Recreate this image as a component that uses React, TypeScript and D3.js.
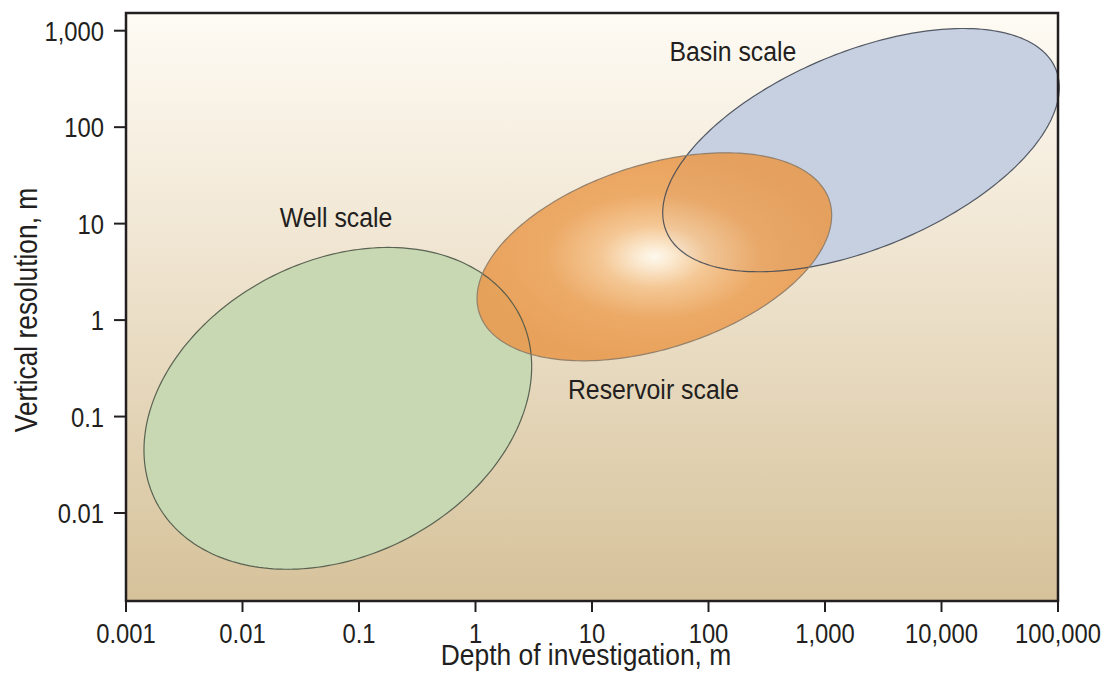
import React from "react";
import * as d3 from "d3";

// ---- data ----
const regions = ["Well scale", "Basin scale", "Reservoir scale"];
const centerDepth = [0.0658, 2037, 34.3]; // m
const centerResolution = [0.1216, 57.8, 4.53]; // m
const depthHalfRange = [1.664, 1.702, 1.522]; // decades
const resolutionHalfRange = [1.668, 1.261, 1.078]; // decades
const correlation = [0.26, 0.515, 0.4];
const regionFills = ["#c7d8b3", "#c6d0e1", "url(#resGrad)"];
const regionStrokes = ["#4c5547", "#444a55", "#8c7a66"];

const labelDepth = [0.0635, 162, 33.7];
const labelResolution = [9.2, 489, 0.152];

const xTicks = [0.001, 0.01, 0.1, 1, 10, 100, 1000, 10000, 100000];
const xTickLabels = ["0.001", "0.01", "0.1", "1", "10", "100", "1,000", "10,000", "100,000"];
const yTicks = [0.01, 0.1, 1, 10, 100, 1000];
const yTickLabels = ["0.01", "0.1", "1", "10", "100", "1,000"];

const xTitle = "Depth of investigation, m";
const yTitle = "Vertical resolution, m";

const W = 1111;
const H = 689;
const FONT = "'Liberation Sans', Arial, sans-serif";
const INK = "#231f20";

function CText({
  px,
  py,
  size,
  sx,
  anchor,
  rotate = 0,
  dy,
  children,
}: {
  px: number;
  py: number;
  size: number;
  sx: number;
  anchor: string;
  rotate?: number;
  dy?: string;
  children: React.ReactNode;
}) {
  return (
    <text
      transform={`translate(${px},${py}) rotate(${rotate}) scale(${sx},1)`}
      textAnchor={anchor}
      dy={dy}
      fontFamily={FONT}
      fontSize={size}
      fill={INK}
    >
      {children}
    </text>
  );
}

export default function App() {
  const x = d3.scaleLog().domain([0.001, 100000]).range([126, 1058]);
  const y = d3
    .scaleLog()
    .domain([Math.pow(10, -2.912), Math.pow(10, 3.1835)])
    .range([601, 13]);

  const line = d3.line<[number, number]>().curve(d3.curveLinearClosed);
  const N = 240;
  const paths = regions.map((_, i) => {
    const lcx = Math.log10(centerDepth[i]);
    const lcy = Math.log10(centerResolution[i]);
    const r = correlation[i];
    const pts: [number, number][] = d3.range(N).map((k) => {
      const t = (k / N) * Math.PI * 2;
      const lx = lcx + depthHalfRange[i] * Math.cos(t);
      const ly = lcy + resolutionHalfRange[i] * (r * Math.cos(t) + Math.sqrt(1 - r * r) * Math.sin(t));
      return [x(Math.pow(10, lx)), y(Math.pow(10, ly))];
    });
    return line(pts) as string;
  });

  const [x0, x1] = x.range();
  const [yb, yt] = y.range();

  return (
    <div>
      <style>{`body{margin:0;background:#fff}`}</style>
      <svg width={W} height={H} style={{ display: "block" }}>
        <defs>
          <linearGradient id="bgGrad" x1="0" y1="0" x2="0" y2="1">
            <stop offset="0" stopColor="#fefbf4" />
            <stop offset="0.35" stopColor="#f2e8d6" />
            <stop offset="1" stopColor="#d6c29a" />
          </linearGradient>
          <radialGradient id="resGrad" cx="0.5" cy="0.5" r="0.5">
            <stop offset="0" stopColor="#fffaf1" />
            <stop offset="0.08" stopColor="#fdeed8" />
            <stop offset="0.3" stopColor="#f5c48e" />
            <stop offset="0.6" stopColor="#eca45c" />
            <stop offset="1" stopColor="#e89b50" />
          </radialGradient>
        </defs>
        <rect x={x0} y={yt} width={x1 - x0} height={yb - yt} fill="url(#bgGrad)" />
        {paths.map((d, i) => (
          <path key={"f" + i} d={d} fill={regionFills[i]} fillOpacity={i === 2 ? 0.9 : 1} stroke="none" />
        ))}
        {paths.map((d, i) => (
          <path key={"s" + i} d={d} fill="none" stroke={regionStrokes[i]} strokeWidth={1.2} strokeOpacity={0.9} />
        ))}
        {regions.map((name, i) => (
          <CText key={"l" + i} px={x(labelDepth[i])} py={y(labelResolution[i])} size={27} sx={0.92} anchor="middle">
            {name}
          </CText>
        ))}
        <rect x={x0} y={yt} width={x1 - x0} height={yb - yt} fill="none" stroke={INK} strokeWidth={2.5} />
        {xTicks.map((v, i) => (
          <g key={"xt" + i}>
            <line x1={x(v)} x2={x(v)} y1={yb} y2={yb + 11} stroke={INK} strokeWidth={2} />
            <CText px={x(v)} py={yb + 42} size={28} sx={0.85} anchor="middle">
              {xTickLabels[i]}
            </CText>
          </g>
        ))}
        {yTicks.map((v, i) => (
          <g key={"yt" + i}>
            <line x1={x0 - 12} x2={x0} y1={y(v)} y2={y(v)} stroke={INK} strokeWidth={2} />
            <CText px={x0 - 22} py={y(v)} dy="0.36em" size={28} sx={0.85} anchor="end">
              {yTickLabels[i]}
            </CText>
          </g>
        ))}
        <CText px={(x0 + x1) / 2 - 6} py={665} size={30} sx={0.88} anchor="middle">
          {xTitle}
        </CText>
        <CText px={37} py={(yb + yt) / 2 + 3} size={31} sx={0.85} rotate={-90} anchor="middle">
          {yTitle}
        </CText>
      </svg>
    </div>
  );
}
